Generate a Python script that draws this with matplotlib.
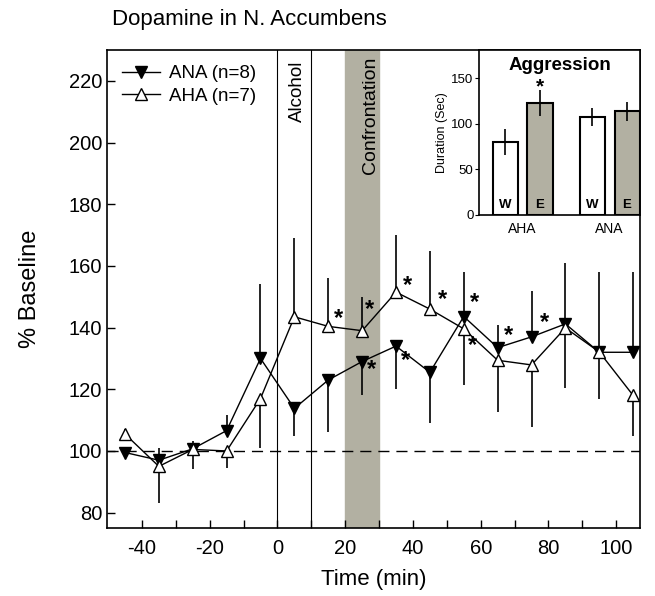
import numpy as np
import matplotlib
matplotlib.use('Agg')
import matplotlib.pyplot as plt

plt.rcParams['font.family'] = ['Liberation Sans', 'DejaVu Sans']
plt.rcParams['axes.unicode_minus'] = False

# time course data
time = [-45, -35, -25, -15, -5, 5, 15, 25, 35, 45, 55, 65, 75, 85, 95, 105]
ana = [99.5, 97, 100.7, 106.6, 130, 113.8, 123, 129, 134, 125.5, 143.6, 133.5, 137, 141.2, 132, 132]
aha = [105.5, 95, 100.5, 100, 117, 143.5, 140.4, 139, 151.5, 146, 139.6, 129.4, 127.9, 139.9, 132.1, 118]
# error bar ends (one sided)
ana_end = [98, 101, 103.3, 111.5, 154, 105, 106, 118, 120, 109, 158, 141, 151.8, 161, 158, 158]
aha_end = [107, 83, 94, 94.5, 101, 169, 156, 150, 170, 165, 121.4, 112.7, 107.8, 120.4, 117, 104.8]
# asterisks
star_x = [18, 27.2, 27.8, 38.5, 37.8, 48.7, 58.3, 57.5, 68.3, 78.7]
star_y = [142.8, 145.8, 126.4, 153.6, 129.3, 149, 148, 134.1, 137.4, 141.7]

# inset data
bar_pos = [0, 1, 2.5, 3.5]
bar_vals = [80, 122.6, 107.2, 114]
bar_err = [14, 14.5, 10, 10.5]
bar_labels = ['W', 'E', 'W', 'E']
group_labels = ['AHA', 'ANA']
group_pos = [0.5, 3.0]

gray = '#b2b0a2'

fig = plt.figure(figsize=(6.55, 5.96), dpi=100)
ax = fig.add_axes([0.1634, 0.114, 0.8136, 0.802])

ax.axvspan(20, 30, color=gray, zorder=0)
ax.axvline(0, color='black', lw=0.8, zorder=1)
ax.axvline(10, color='black', lw=0.8, zorder=1)
ax.axhline(100, color='black', lw=1, ls=(0, (8, 5)), zorder=1)


def one_sided(vals, ends):
    lo = [max(v - e, 0) for v, e in zip(vals, ends)]
    hi = [max(e - v, 0) for v, e in zip(vals, ends)]
    return [lo, hi]


ax.errorbar(time, ana, yerr=one_sided(ana, ana_end), fmt='none', ecolor='black', elinewidth=1.2, capsize=0, zorder=2)
ax.errorbar(time, aha, yerr=one_sided(aha, aha_end), fmt='none', ecolor='black', elinewidth=1.2, capsize=0, zorder=2)
ax.plot(time, ana, color='black', lw=1, marker='v', ms=8.5, mfc='black', mec='black', label='ANA (n=8)', zorder=3)
ax.plot(time, aha, color='black', lw=1, marker='^', ms=8.5, mfc='white', mec='black', label='AHA (n=7)', zorder=4)

for sx, sy in zip(star_x, star_y):
    ax.text(sx, sy, '*', fontsize=17, fontweight='bold', ha='center', va='center', zorder=5)

ax.text(5.8, 226.5, 'Alcohol', rotation=90, ha='center', va='top', fontsize=13.5)
ax.text(27.6, 228, 'Confrontation', rotation=90, ha='center', va='top', fontsize=14)

ax.set_xlim(-50.3, 107)
ax.set_ylim(75, 230)
ax.set_xticks([-40, -20, 0, 20, 40, 60, 80, 100])
ax.set_xticks(np.arange(-40, 110, 10), minor=True)
ax.set_yticks(np.arange(80, 221, 20))
ax.tick_params(direction='in', labelsize=14.5, length=6, width=1)
ax.tick_params(axis='x', pad=8)
ax.tick_params(which='minor', direction='in', length=6, width=1)
for s in ax.spines.values():
    s.set_linewidth(1.2)

ax.set_xlabel('Time (min)', fontsize=16, labelpad=8)
ax.set_ylabel('% Baseline', fontsize=17, labelpad=20)
fig.text(0.171, 0.967, 'Dopamine in N. Accumbens', fontsize=16, ha='left', va='center')

ax.legend(loc='upper left', frameon=False, fontsize=13.5, handlelength=2.0,
          bbox_to_anchor=(0.0, 1.0), borderaxespad=0.4, labelspacing=0.3, handletextpad=0.5)

# inset
ins = fig.add_axes([0.7313, 0.6393, 0.2457, 0.2767])
ins.set_facecolor('white')
colors = ['white', gray, 'white', gray]
ins.bar(bar_pos, bar_vals, width=0.72, color=colors, edgecolor='black', linewidth=1.5, zorder=2)
ins.errorbar(bar_pos, bar_vals, yerr=bar_err, fmt='none', ecolor='black', elinewidth=1.2, capsize=0, zorder=3)
for p, lab in zip(bar_pos, bar_labels):
    ins.text(p, 4, lab, ha='center', va='bottom', fontsize=9.5, fontweight='bold')
ins.text(1, 141, '*', ha='center', va='center', fontsize=15, fontweight='bold')
ins.set_title('Aggression', fontsize=13.5, fontweight='bold', y=0.83)
ins.set_xlim(-0.75, 3.87)
ins.set_ylim(0, 181)
ins.set_yticks([0, 50, 100, 150])
ins.set_xticks(group_pos)
ins.set_xticklabels(group_labels)
ins.tick_params(axis='x', length=0, labelsize=10, pad=5)
ins.tick_params(axis='y', direction='out', labelsize=9.5, length=3, pad=1)
ins.set_ylabel('Duration (Sec)', fontsize=9, labelpad=2)
for s in ins.spines.values():
    s.set_linewidth(1.2)

fig.savefig('out.png', dpi=100)
